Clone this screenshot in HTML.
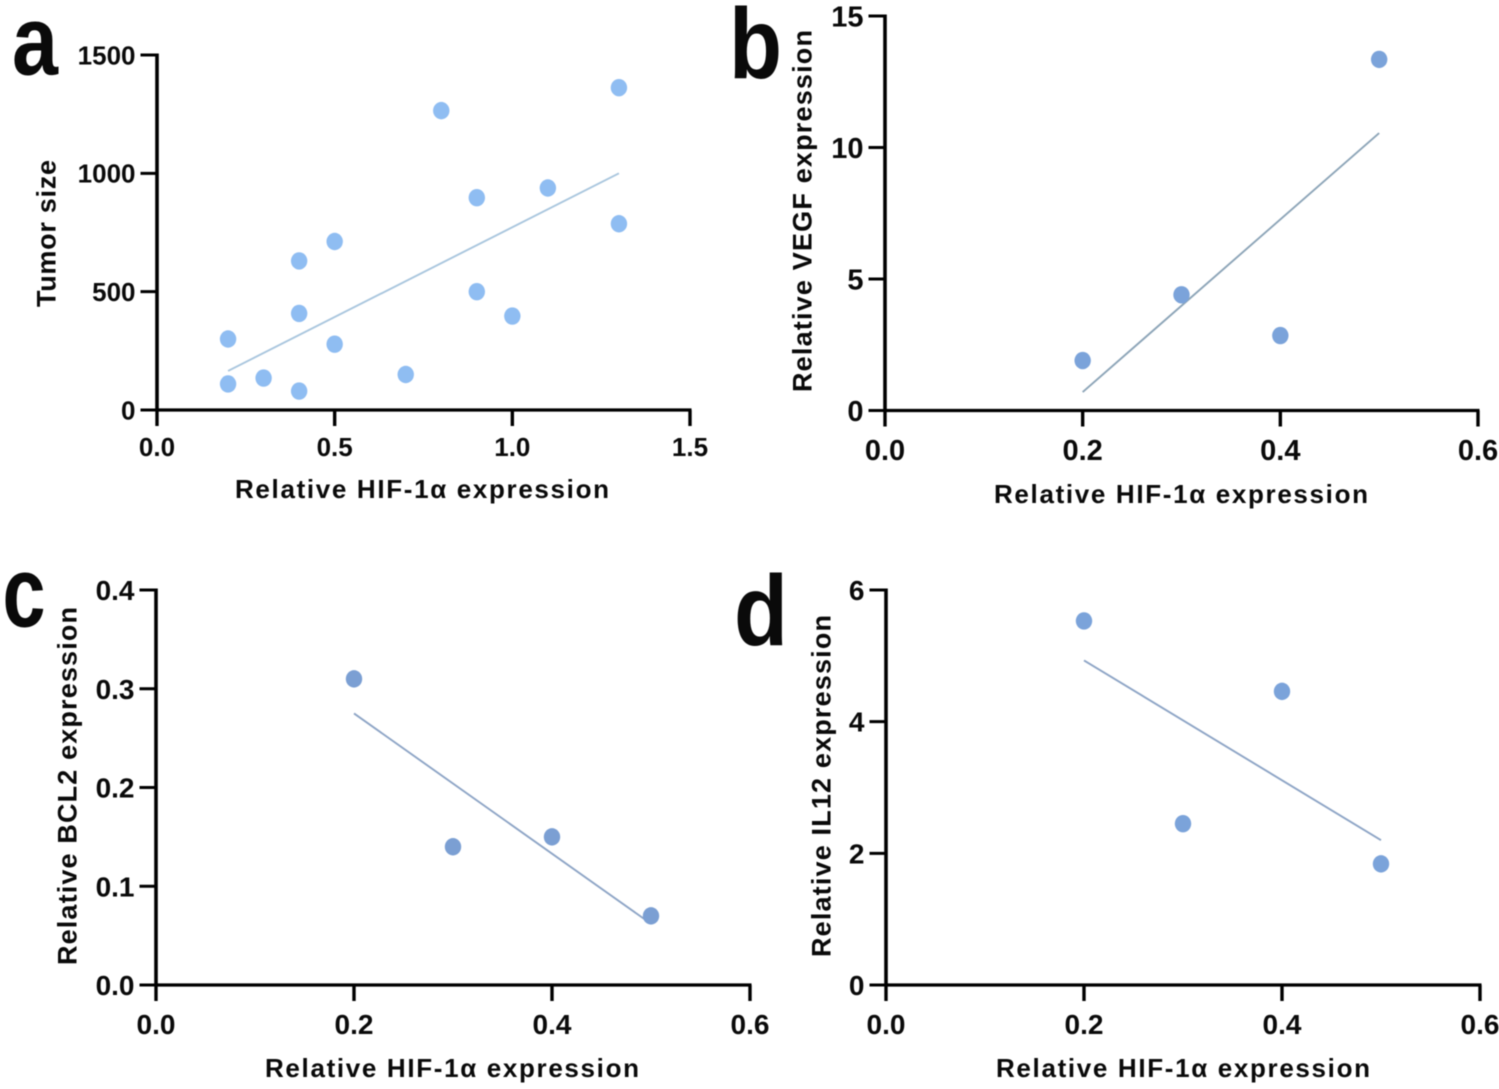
<!DOCTYPE html>
<html lang="en">
<head>
<meta charset="utf-8">
<title>HIF-1α correlation scatter plots</title>
<style>
html,body{margin:0;padding:0;background:#fff;width:1499px;height:1089px;overflow:hidden}
svg{display:block;filter:blur(0.5px)}
text{font-family:"Liberation Sans",sans-serif;font-weight:bold;fill:#0a0a0a}
</style>
</head>
<body>
<svg id="figure" xmlns="http://www.w3.org/2000/svg" width="1499" height="1089" viewBox="0 0 1499 1089">
  <rect width="1499" height="1089" fill="#fff"/>
  <text x="12" y="74.5" font-size="98" textLength="46" lengthAdjust="spacingAndGlyphs">a</text>
  <text x="729" y="78" font-size="100" textLength="53" lengthAdjust="spacingAndGlyphs">b</text>
  <text x="2.5" y="626.5" font-size="100" textLength="43" lengthAdjust="spacingAndGlyphs">c</text>
  <text x="734" y="645" font-size="100" textLength="54" lengthAdjust="spacingAndGlyphs">d</text>
</svg>
<script>
const xTicksA = ["0.0", "0.5", "1.0", "1.5"];
const yTicksA = ["0", "500", "1000", "1500"];
const xValuesA = [0.2, 0.2, 0.3, 0.4, 0.4, 0.4, 0.5, 0.5, 0.7, 0.8, 0.9, 0.9, 1.0, 1.1, 1.3, 1.3];
const yValuesA = [300, 110, 135, 80, 408, 630, 712, 278, 150, 1265, 897, 500, 397, 938, 1362, 787];
const fitXA = [0.2, 1.3];
const fitYA = [165, 1000];

const xTicksB = ["0.0", "0.2", "0.4", "0.6"];
const yTicksB = ["0", "5", "10", "15"];
const xValuesB = [0.2, 0.3, 0.4, 0.5];
const yValuesB = [1.9, 4.4, 2.85, 13.35];
const fitXB = [0.2, 0.5];
const fitYB = [0.7, 10.55];

const xTicksC = ["0.0", "0.2", "0.4", "0.6"];
const yTicksC = ["0.0", "0.1", "0.2", "0.3", "0.4"];
const xValuesC = [0.2, 0.3, 0.4, 0.5];
const yValuesC = [0.31, 0.14, 0.15, 0.07];
const fitXC = [0.2, 0.5];
const fitYC = [0.275, 0.062];

const xTicksD = ["0.0", "0.2", "0.4", "0.6"];
const yTicksD = ["0", "2", "4", "6"];
const xValuesD = [0.2, 0.3, 0.4, 0.5];
const yValuesD = [5.53, 2.45, 4.46, 1.84];
const fitXD = [0.2, 0.5];
const fitYD = [4.93, 2.2];

const SVG_NS = "http://www.w3.org/2000/svg";
const figure = document.getElementById("figure");

function make(parent, tag, attrs, content) {
  const el = document.createElementNS(SVG_NS, tag);
  for (const key in attrs) el.setAttribute(key, attrs[key]);
  if (content !== undefined) el.textContent = content;
  parent.appendChild(el);
  return el;
}

function drawPanel(p) {
  const xMin = parseFloat(p.xTicks[0]);
  const xMax = parseFloat(p.xTicks[p.xTicks.length - 1]);
  const yMin = parseFloat(p.yTicks[0]);
  const yMax = parseFloat(p.yTicks[p.yTicks.length - 1]);
  const sx = v => p.left + (v - xMin) / (xMax - xMin) * (p.right - p.left);
  const sy = v => p.bottom - (v - yMin) / (yMax - yMin) * (p.bottom - p.top);

  const group = make(figure, "g", {});
  
  

  const xAxis = make(group, "line", {x1: p.left - 1.5, x2: p.right + 1.5, y1: p.bottom, y2: p.bottom, stroke: "#000", "stroke-width": 3.2});
  
  
  const yAxis = make(group, "line", {x1: p.left, x2: p.left, y1: p.top - 1.5, y2: p.bottom + 1.5, stroke: "#000", "stroke-width": 3.6});
  
  

  p.xTicks.forEach(t => {
    const x = sx(parseFloat(t));
    const mark = make(group, "line", {x1: x, x2: x, y1: p.bottom, y2: p.bottom + 16, stroke: "#000", "stroke-width": 3.4});
    
    
    const label = make(group, "text", {x: x, y: p.xLabelY, "font-size": p.tickSize, "text-anchor": "middle"}, t);
    
    
  });

  p.yTicks.forEach(t => {
    const y = sy(parseFloat(t));
    const mark = make(group, "line", {x1: p.left - 16.5, x2: p.left, y1: y, y2: y, stroke: "#000", "stroke-width": 3});
    
    
    const label = make(group, "text", {x: p.left - 21.5, y: y + p.tickSize * 0.36, "font-size": p.tickSize, "text-anchor": "end"}, t);
    
    
  });

  const fit = make(group, "line", {x1: sx(p.fitX[0]), y1: sy(p.fitY[0]), x2: sx(p.fitX[1]), y2: sy(p.fitY[1]), stroke: p.lineColor, "stroke-width": 1.9});
  
  

  p.xValues.forEach((v, i) => {
    const dot = make(group, "ellipse", {cx: sx(v), cy: sy(p.yValues[i]), rx: 8.2, ry: 8.7, fill: p.dotColor});
    
    
  });

  const xTitle = make(group, "text", {x: p.xTitleX, y: p.xTitleY, "font-size": 26, textLength: 374, lengthAdjust: "spacing"}, "Relative HIF-1α expression");
  
  

  const yTitle = make(group, "text", {transform: "translate(" + p.yTitleX + "," + p.yTitleBottom + ") rotate(-90)", "font-size": 27, textLength: p.yTitleLength, lengthAdjust: "spacing"}, p.yTitle);
  
  
}

drawPanel({id: "a", left: 157, right: 690, top: 55, bottom: 410, tickSize: 26, xLabelY: 456,
  xTicks: xTicksA, yTicks: yTicksA, xValues: xValuesA, yValues: yValuesA, fitX: fitXA, fitY: fitYA,
  dotColor: "#8fbdf2", lineColor: "#a9c6de",
  xTitleX: 235, xTitleY: 498, yTitle: "Tumor size", yTitleX: 55.5, yTitleBottom: 307, yTitleLength: 147});

drawPanel({id: "b", left: 885, right: 1478, top: 16, bottom: 410.5, tickSize: 29, xLabelY: 460,
  xTicks: xTicksB, yTicks: yTicksB, xValues: xValuesB, yValues: yValuesB, fitX: fitXB, fitY: fitYB,
  dotColor: "#7ba3da", lineColor: "#8da5b8",
  xTitleX: 994, xTitleY: 503, yTitle: "Relative VEGF expression", yTitleX: 811.5, yTitleBottom: 392, yTitleLength: 362});

drawPanel({id: "c", left: 156, right: 750, top: 590, bottom: 985, tickSize: 28, xLabelY: 1034,
  xTicks: xTicksC, yTicks: yTicksC, xValues: xValuesC, yValues: yValuesC, fitX: fitXC, fitY: fitYC,
  dotColor: "#7b9fd3", lineColor: "#8ea5c6",
  xTitleX: 265, xTitleY: 1077, yTitle: "Relative BCL2 expression", yTitleX: 76.5, yTitleBottom: 965, yTitleLength: 358});

drawPanel({id: "d", left: 886, right: 1480, top: 590, bottom: 985, tickSize: 28, xLabelY: 1034,
  xTicks: xTicksD, yTicks: yTicksD, xValues: xValuesD, yValues: yValuesD, fitX: fitXD, fitY: fitYD,
  dotColor: "#7ba3da", lineColor: "#8ea5c6",
  xTitleX: 996, xTitleY: 1077, yTitle: "Relative IL12 expression", yTitleX: 830.5, yTitleBottom: 957, yTitleLength: 342});
</script>
</body>
</html>
